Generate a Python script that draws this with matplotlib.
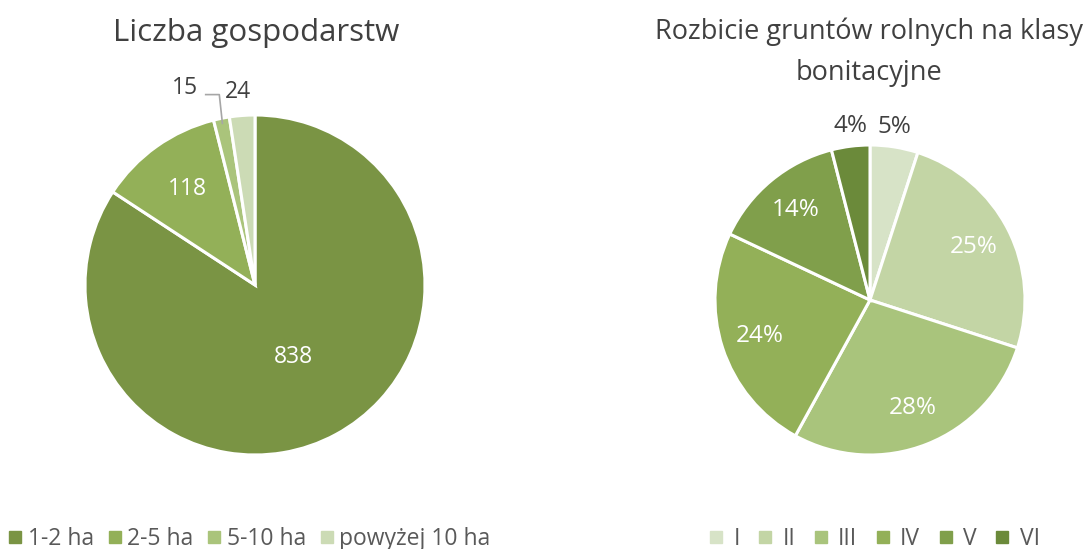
import matplotlib.pyplot as plt
import numpy as np
from matplotlib.lines import Line2D

plt.rcParams['font.family'] = ['Open Sans', 'DejaVu Sans']

# left chart data
farm_labels = ["1-2 ha", "2-5 ha", "5-10 ha", "powyżej 10 ha"]
farm_counts = [838, 118, 15, 24]
farm_colors = ["#7A9444", "#93B058", "#AAC47B", "#CCDBB5"]

# right chart data
soil_labels = ["I", "II", "III", "IV", "V", "VI"]
soil_pct = [5, 25, 28, 24, 14, 4]
soil_colors = ["#D7E3C7", "#C3D5A5", "#A9C47C", "#93B058", "#809F4B", "#6B8A3A"]

W, H = 1090, 549
fig = plt.figure(figsize=(W / 100, H / 100), dpi=100)
text_col = "#404040"
legend_col = "#595959"


def px_axes(cx, cy, r):
    return fig.add_axes([(cx - r) / W, (H - cy - r) / H, 2 * r / W, 2 * r / H])


def mid_angles(vals):
    vals = np.asarray(vals, float)
    fr = vals / vals.sum() * 360
    start = 90 - np.concatenate([[0], np.cumsum(fr)[:-1]])
    return np.deg2rad(start - fr / 2)


# ---- left pie
ax1 = px_axes(255, 285, 170)
ax1.pie(farm_counts, colors=farm_colors, startangle=90, counterclock=False,
        radius=1, wedgeprops=dict(edgecolor="white", linewidth=2.2))
ax1.set_xlim(-1, 1)
ax1.set_ylim(-1, 1)
ax1.set_aspect("equal")
ang = mid_angles(farm_counts)
lsz = 16.5
for i, (v, a) in enumerate(zip(farm_counts, ang)):
    if i == 0:
        ax1.text(0.48 * np.cos(a), 0.48 * np.sin(a), str(v), color="white",
                 fontsize=lsz, ha="center", va="center")
    elif i == 1:
        ax1.text(0.69 * np.cos(a), 0.69 * np.sin(a), str(v), color="white",
                 fontsize=lsz, ha="center", va="center")
    elif i == 2:
        tx, ty = -0.41, 1.16
        ex, ey = 0.97 * np.cos(a), 0.97 * np.sin(a)
        ax1.plot([tx + 0.12, tx + 0.2, ex], [ty - 0.04, ty - 0.04, ey],
                 color="#A6A6A6", lw=1.2, clip_on=False)
        ax1.text(tx, ty, str(v), color=text_col, fontsize=lsz,
                 ha="center", va="center")
    else:
        ax1.text(1.14 * np.cos(a) - 0.015, 1.135, str(v), color=text_col,
                 fontsize=lsz, ha="center", va="center")
ax1.axis("off")
fig.text(256 / W, 1 - 33 / H, "Liczba gospodarstw", fontsize=22.5,
         color=text_col, ha="center", va="center")

# ---- right pie
ax2 = px_axes(870, 300, 155)
ax2.pie(soil_pct, colors=soil_colors, startangle=90, counterclock=False,
        radius=1, wedgeprops=dict(edgecolor="white", linewidth=2.2))
ax2.set_xlim(-1, 1)
ax2.set_ylim(-1, 1)
ax2.set_aspect("equal")
ang2 = mid_angles(soil_pct)
for i, (v, a) in enumerate(zip(soil_pct, ang2)):
    if v < 10:
        r = 1.13
        col = text_col
        x = r * np.cos(a) * 0.88
    else:
        r = 0.75
        col = "white"
        x = r * np.cos(a)
    ax2.text(x, r * np.sin(a), f"{v}%", color=col, fontsize=17.5,
             ha="center", va="center")
ax2.axis("off")
fig.text(869 / W, 1 - 52 / H, "Rozbicie gruntów rolnych na klasy\nbonitacyjne",
         fontsize=19.5, color=text_col, ha="center", va="center", linespacing=1.6)

# ---- legends
h1 = [Line2D([], [], marker="s", ls="", color=c, markersize=9) for c in farm_colors]
fig.legend(h1, farm_labels, loc="center left", bbox_to_anchor=(-0.009, 1 - 539 / H),
           ncol=4, frameon=False, fontsize=16.5, handletextpad=0.15,
           columnspacing=0.5, labelcolor=legend_col, handlelength=0.8,
           borderpad=0.2)
h2 = [Line2D([], [], marker="s", ls="", color=c, markersize=9) for c in soil_colors]
fig.legend(h2, soil_labels, loc="center left", bbox_to_anchor=(691 / W, 1 - 539 / H),
           ncol=6, frameon=False, fontsize=16.5, handletextpad=0.35,
           columnspacing=0.72, labelcolor=legend_col, handlelength=0.8,
           borderpad=0.2)

fig.savefig("out.png", dpi=100)
